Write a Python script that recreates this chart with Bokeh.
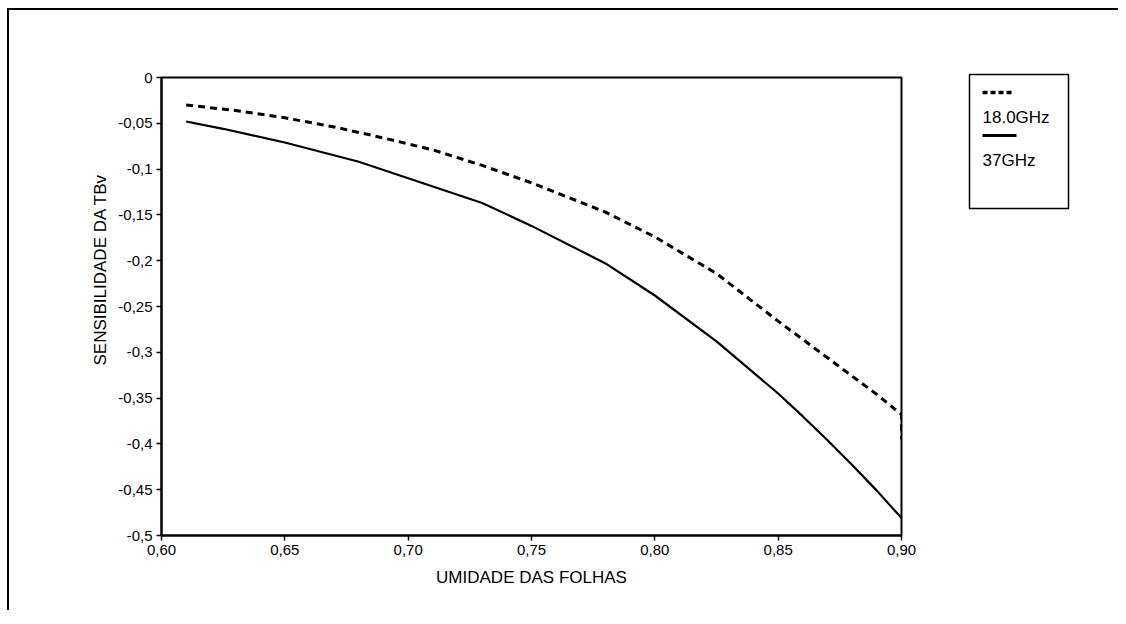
from bokeh.plotting import figure
from bokeh.models import Range1d, FixedTicker, Title
from bokeh.layouts import row
from bokeh.embed import file_html
from bokeh.resources import INLINE
from bokeh.core.properties import value

# ---- data ----
x_18 = [0.61, 0.63, 0.65, 0.67, 0.69, 0.71, 0.73, 0.75, 0.78, 0.80, 0.825, 0.85, 0.87, 0.89, 0.90, 0.90]
y_18 = [-0.030, -0.036, -0.044, -0.054, -0.066, -0.079, -0.096, -0.115, -0.147, -0.174, -0.214, -0.266,
        -0.306, -0.346, -0.368, -0.395]

x_37 = [0.61, 0.625, 0.65, 0.68, 0.70, 0.73, 0.75, 0.78, 0.80, 0.825, 0.85, 0.86, 0.87, 0.88, 0.89, 0.90]
y_37 = [-0.048, -0.056, -0.071, -0.092, -0.110, -0.137, -0.162, -0.203, -0.238, -0.288, -0.345,
        -0.370, -0.396, -0.423, -0.451, -0.481]

series_names = ["18.0GHz", "37GHz"]

x_tick_vals = [0.60, 0.65, 0.70, 0.75, 0.80, 0.85, 0.90]
x_tick_labels = ["0,60", "0,65", "0,70", "0,75", "0,80", "0,85", "0,90"]
y_tick_vals = [0.0, -0.05, -0.1, -0.15, -0.2, -0.25, -0.3, -0.35, -0.4, -0.45, -0.5]
y_tick_labels = ["0", "-0,05", "-0,1", "-0,15", "-0,2", "-0,25", "-0,3", "-0,35", "-0,4", "-0,45", "-0,5"]

x_title = "UMIDADE DAS FOLHAS"
y_title = "SENSIBILIDADE DA TBv"

FONT = "Liberation Sans"

p = figure(width=952, height=600, output_backend="svg", toolbar_location=None,
           x_range=Range1d(0.60, 0.90), y_range=Range1d(-0.5, 0.0),
           min_border_left=152, min_border_right=60, min_border_top=67, min_border_bottom=75)
p.background_fill_color = "white"
p.border_fill_color = "white"
p.grid.visible = False
p.outline_line_color = "black"
p.outline_line_width = 2

p.line(x_18, y_18, line_color="black", line_width=3, line_dash="7 5")
p.line(x_37, y_37, line_color="black", line_width=2.2)

for ax, vals, labels in ((p.xaxis[0], x_tick_vals, x_tick_labels), (p.yaxis[0], y_tick_vals, y_tick_labels)):
    ax.ticker = FixedTicker(ticks=vals)
    ax.major_label_overrides = {v: l for v, l in zip(vals, labels)}
    ax.minor_tick_line_color = None
    ax.major_tick_in = 0
    ax.major_tick_out = 5
    ax.major_tick_line_width = 1.5
    ax.axis_line_width = 2
    ax.major_label_text_font = FONT
    ax.major_label_text_font_size = "15px"
    ax.major_label_text_color = "black"
    ax.axis_label_text_font = FONT
    ax.axis_label_text_font_size = "17px"
    ax.axis_label_text_font_style = "normal"
    ax.axis_label_text_color = "black"

p.xaxis.axis_label = x_title
p.xaxis.major_label_standoff = 4
p.xaxis.axis_label_standoff = 10
p.yaxis.major_label_standoff = 4

ytitle = Title(text=y_title, align="left", offset=170, text_font=FONT,
               text_font_size="17px", text_font_style="normal", text_color="black",
               vertical_align="bottom", standoff=12)
p.add_layout(ytitle, "left")

# ---- legend panel (pixel-like coordinates) ----
lf = figure(width=157, height=600, output_backend="svg", toolbar_location=None,
            x_range=Range1d(0, 157), y_range=Range1d(600, 0),
            min_border=0, x_axis_type=None, y_axis_type=None)
lf.grid.visible = False
lf.outline_line_color = None
lf.background_fill_color = "white"
lf.border_fill_color = "white"
for fig in (p, lf):
    if "frame_align" in fig.properties():
        fig.frame_align = False

lf.quad(left=[8], right=[107], top=[64], bottom=[198], fill_color=None,
        line_color="black", line_width=1.5)
lf.line([21, 52], [82, 82], line_color="black", line_width=3.5, line_dash="5 3")
lf.line([21, 55], [125, 125], line_color="black", line_width=3)
lf.text(x=[21, 21], y=[107, 150], text=series_names, text_font=value(FONT),
        text_font_size="17px", text_baseline="middle", text_align="left", text_color="black")

layout = row(p, lf, margin=(8, 0, 0, 7),
             styles={"border-top": "2px solid black", "border-left": "2px solid black"})

open("out.html", "w").write(file_html(layout, INLINE))
